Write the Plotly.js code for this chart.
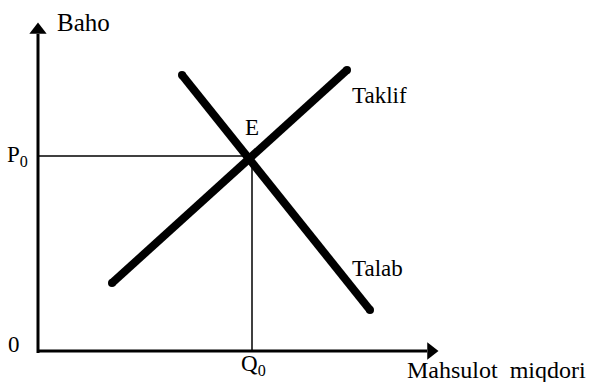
<!DOCTYPE html>
<html>
<head>
<meta charset="utf-8">
<script src="https://cdn.plot.ly/plotly-3.0.1.min.js"></script>
<style>
  html, body { margin: 0; padding: 0; background: #fff; }
  #plot { width: 602px; height: 382px; }
</style>
</head>
<body>
<div id="plot"></div>
<script>
// supply (Taklif) and demand (Talab) line ends
var supplyQ = [74, 309];
var supplyP = [68, 281];
var demandQ = [144, 332];
var demandP = [276, 41];

// equilibrium point E
var eqQ = 214;
var eqP = 195;

// axis lengths
var axisQmax = 401;
var axisPmax = 329;

var serif = "Liberation Serif";
var black = "#000";

var traces = [
  // price axis
  { x: [0, 0], y: [-2, axisPmax - 12], mode: "lines", line: { color: black, width: 3 } },
  // quantity axis
  { x: [0, axisQmax - 12], y: [0, 0], mode: "lines", line: { color: black, width: 3 } },
  // arrow heads
  { x: [0], y: [axisPmax - 8], mode: "markers",
    marker: { symbol: "triangle-up", size: 15, color: black } },
  { x: [axisQmax - 8], y: [0], mode: "markers",
    marker: { symbol: "triangle-right", size: 15, color: black } },
  // guide lines to P0 and Q0
  { x: [0, eqQ], y: [eqP, eqP], mode: "lines", line: { color: black, width: 1.5 } },
  { x: [eqQ, eqQ], y: [eqP, 0], mode: "lines", line: { color: black, width: 1.5 } },
  // supply
  { x: supplyQ, y: supplyP, mode: "lines+markers", name: "Taklif",
    line: { color: black, width: 8 }, marker: { color: black, size: 8 } },
  // demand
  { x: demandQ, y: demandP, mode: "lines+markers", name: "Talab",
    line: { color: black, width: 8 }, marker: { color: black, size: 8 } }
];

function label(text, x, y, xanchor, size) {
  return {
    text: text, x: x, y: y, xref: "x", yref: "y",
    xanchor: xanchor || "center", yanchor: "middle", showarrow: false,
    font: { family: serif, size: size || 23, color: black }
  };
}

var layout = {
  width: 602,
  height: 382,
  margin: { l: 0, r: 0, t: 0, b: 0 },
  paper_bgcolor: "#fff",
  plot_bgcolor: "#fff",
  showlegend: false,
  xaxis: { range: [-38, 564], visible: false, fixedrange: true },
  yaxis: { range: [-31, 351], visible: false, fixedrange: true },
  annotations: [
    label("Baho", 17, axisPmax, "left", 25),
    label("P<sub>0</sub>", -8, eqP, "right"),
    label("0", -24, 7),
    label("Q<sub>0</sub>", eqQ + 1, -14),
    label("Mahsulot\u00a0\u00a0miqdori", 367, -19, "left", 24),
    label("E", eqQ, eqP + 29),
    label("Taklif", 312, 256, "left"),
    label("Talab", 312, 83, "left")
  ]
};

Plotly.newPlot("plot", traces, layout, { displayModeBar: false, staticPlot: true });
</script>
</body>
</html>
